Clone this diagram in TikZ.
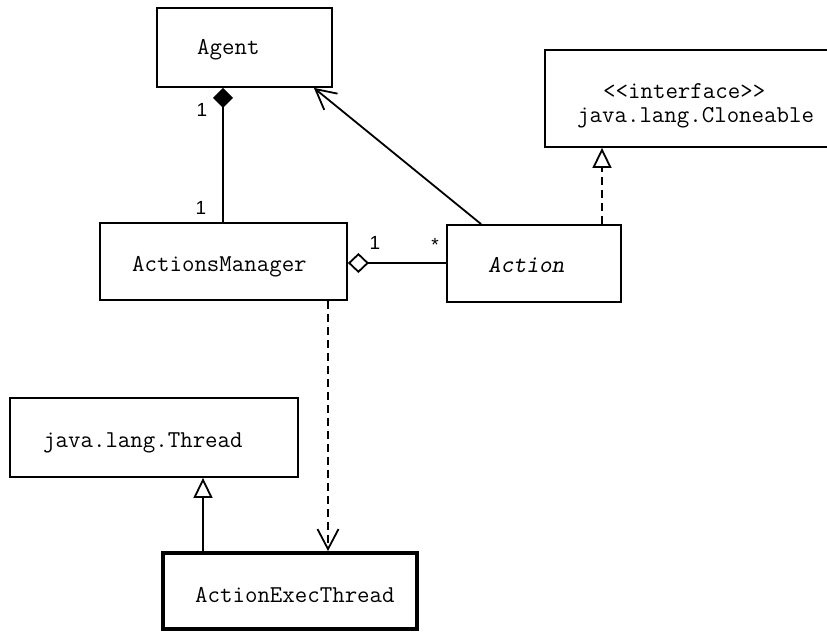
\documentclass[tikz,border=0pt]{standalone}
\usepackage{fontspec}
\setsansfont{Liberation Sans}
\usetikzlibrary{arrows.meta}

\begin{document}
\begin{tikzpicture}[x=1pt,y=-1pt,
  umlbox/.style={draw, line width=1.8pt, inner sep=0pt},
  heavybox/.style={draw, line width=4pt, inner sep=0pt},
  umltext/.style={inner sep=0pt, anchor=base west, font=\ttfamily\fontsize{24.2}{24}\selectfont},
  mult/.style={inner sep=0pt, font=\sffamily\fontsize{19}{19}\selectfont},
  conn/.style={line width=1.8pt},
  dashedconn/.style={line width=1.8pt, dash pattern=on 8pt off 5pt},
  composite/.style={{Diamond[length=20pt,width=20pt]}-},
  aggregate/.style={{Diamond[open,length=21pt,width=20pt]}-},
  navigable/.style={-{Straight Barb[length=20pt,width=21pt]}},
  inherits/.style={-{Triangle[open,length=20pt,width=19pt]}},
]
\useasboundingbox (0,0) rectangle (827,634);
\fill[white] (0,0) rectangle (827,634);

% class boxes
\node[umlbox, minimum width=175pt, minimum height=79pt] (agent) at (244.5,47.5) {};
\node[umlbox, minimum width=287pt, minimum height=97pt] (clone) at (688.5,98.5) {};
\node[umlbox, minimum width=247pt, minimum height=77pt] (mgr) at (223.5,261.5) {};
\node[umlbox, minimum width=174pt, minimum height=77pt] (action) at (534,263.5) {};
\node[umlbox, minimum width=288pt, minimum height=79pt] (thread) at (154,437.5) {};
\node[heavybox, minimum width=254pt, minimum height=76pt] (exec) at (290,591) {};

% class names
\node[umltext] (agentname) at (197,55) {Agent};
\node[umltext] (clonestereo) at (603,99) {\textless\textless interface\textgreater\textgreater};
\node[umltext] (clonename) at (577,122) {java.lang.Cloneable};
\node[umltext] (mgrname) at (132,271) {ActionsManager};
\node[umltext] (actionname) at (488,272) {\slshape Action};
\node[umltext] (threadname) at (43,447) {java.lang.Thread};
\node[umltext] (execname) at (195,602) {ActionExecThread};

% composition Agent <>-- ActionsManager
\draw[conn, composite] ([xshift=-21.5pt]agent.south) -- ([xshift=-21.5pt]agent.south |- mgr.north);
% aggregation ActionsManager <>-- Action
\draw[conn, aggregate] ([yshift=-1.5pt]mgr.east) -- ([yshift=-1.5pt]mgr.east -| action.west);
% navigable association Action -> Agent
\draw[conn, navigable] ([xshift=35pt]action.north west) -- ([xshift=-19pt]agent.south east);
% realization Action ..|> Cloneable
\draw[dashedconn, inherits] ([xshift=68pt]action.north) -- ([xshift=68pt]action.north |- clone.south);
% dependency ActionsManager ..> ActionExecThread
\draw[dashedconn, navigable] ([xshift=104.5pt]mgr.south) -- ([xshift=104.5pt]mgr.south |- exec.north);
% generalization ActionExecThread --|> Thread
\draw[conn, inherits] ([xshift=-87pt]exec.north) -- ([xshift=-87pt]exec.north |- thread.south);

% multiplicities
\node[mult] (mAgent) at (202,110) {1};
\node[mult] (mMgrTop) at (201,208) {1};
\node[mult] (mMgrRight) at (375,243) {1};
\node[mult, anchor=north] (mAction) at (435,238) {*};
\end{tikzpicture}
\end{document}
